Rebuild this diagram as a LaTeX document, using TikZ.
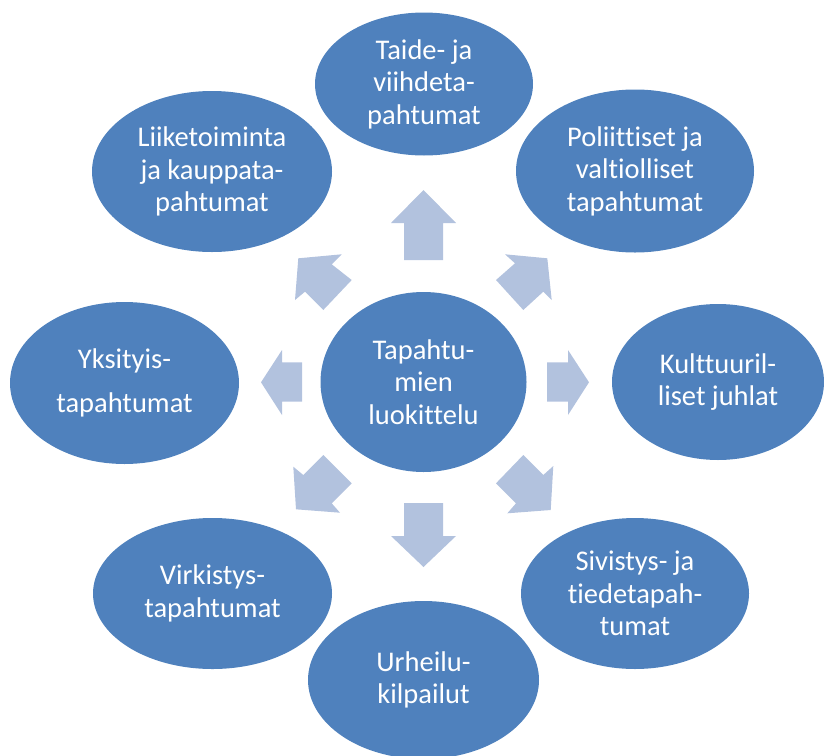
\documentclass[tikz,border=0pt]{standalone}
\usepackage{fontspec}
\setmainfont{Carlito}[Ligatures={NoCommon,NoRare}]
\usetikzlibrary{shapes.geometric}
\definecolor{bubbleblue}{HTML}{4F81BD}
\definecolor{arrowblue}{HTML}{B2C2DE}
\tikzset{
  bubble/.style={ellipse, fill=bubbleblue, draw=none, text=white, inner sep=0pt,
    align=center, font=\fontsize{28.5}{32.5}\selectfont},
  blockarrow/.style={fill=arrowblue, draw=none}
}
\begin{document}
\begin{tikzpicture}[x=1pt, y=-1pt]
\useasboundingbox (0,0) rectangle (824,755);
\clip (0,0) rectangle (824,755);

% hub and surrounding categories
\node[bubble, minimum width=206pt, minimum height=180pt] (hub) at (423.5,382) {Tapahtu-\\mien\\luokittelu};
\node[bubble, minimum width=218pt, minimum height=143pt] (taide) at (424,84) {Taide- ja\\viihdeta-\\pahtumat};
\node[bubble, minimum width=238pt, minimum height=163pt] (poli) at (635,171) {Poliittiset ja\\valtiolliset\\tapahtumat};
\node[bubble, minimum width=212pt, minimum height=156pt] (kult) at (718,382) {Kulttuuril-\\liset juhlat};
\node[bubble, minimum width=228pt, minimum height=151pt] (sivi) at (635,593.5) {Sivistys- ja\\tiedetapah-\\tumat};
\node[bubble, minimum width=231pt, minimum height=158pt] (urhe) at (423.5,680) {Urheilu-\\kilpailut};
\node[bubble, minimum width=239pt, minimum height=151pt] (virk) at (212.5,593.5) {Virkistys-\\tapahtumat};
\node[bubble, minimum width=229pt, minimum height=162pt] (yksi) at (124.5,383) {Yksityis-\\[12pt]tapahtumat};
\node[bubble, minimum width=240pt, minimum height=161pt] (liike) at (212,171.5) {Liiketoiminta\\ja kauppata-\\pahtumat};

% block arrows pointing outward from the hub
% up
\fill[blockarrow] (404,260) -- (404,223) -- (391,223) -- (423.5,190) -- (456,223) -- (443,223) -- (443,260) -- cycle;
% down
\fill[blockarrow] (404,503) -- (404,536) -- (391,536) -- (423.5,567) -- (456,536) -- (443,536) -- (443,503) -- cycle;
% right
\fill[blockarrow] (547,362.3) -- (568,362.3) -- (568,350) -- (589,382.3) -- (568,415) -- (568,401.7) -- (547,401.7) -- cycle;
% left
\fill[blockarrow] (302,362.3) -- (282,362.3) -- (282,350) -- (261,382.3) -- (282,415) -- (282,401.7) -- (302,401.7) -- cycle;
% up-left
\fill[blockarrow] (351.7,280) -- (331.7,264.3) -- (341.7,254.3) -- (298.3,258.3) -- (295,300) -- (305,291.7) -- (323.3,310) -- cycle;
% up-right
\fill[blockarrow] (496,280) -- (515,263.3) -- (505,254.3) -- (547.3,258.3) -- (551.7,300) -- (543.3,291.7) -- (523.3,310) -- cycle;
% down-left
\fill[blockarrow] (323.3,455) -- (303.3,475) -- (293.3,466.7) -- (296,509.3) -- (340,512.7) -- (331.7,503.3) -- (351.7,483.3) -- cycle;
% down-right
\fill[blockarrow] (523.3,455) -- (543.3,475) -- (553.3,466) -- (550.7,510) -- (507.3,513.3) -- (516,503.3) -- (496,483.3) -- cycle;
\end{tikzpicture}
\end{document}
